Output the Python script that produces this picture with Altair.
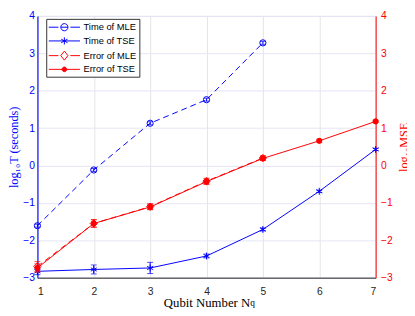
import math
import altair as alt
import pandas as pd

# ---- data ----
nq = [1, 2, 3, 4, 5, 6, 7]
nq_mle = [1, 2, 3, 4, 5]
time_mle = [-1.61, -0.12, 1.13, 1.76, 3.28]
time_mle_err = [0.04, 0.04, 0.04, 0.04, 0.04]
time_tse = [-2.83, -2.78, -2.74, -2.42, -1.71, -0.69, 0.43]
time_tse_err = [0.09, 0.12, 0.15, 0.05, 0.04, 0.03, 0.03]
err_mle = [-2.70, -1.55, -1.10, -0.42, 0.20]
err_mle_err = [0.13, 0.10, 0.08, 0.08, 0.06]
err_tse = [-2.74, -1.55, -1.11, -0.43, 0.19, 0.66, 1.18]
err_tse_err = [0.11, 0.10, 0.07, 0.07, 0.06, 0.04, 0.03]
series = ["Time of MLE", "Time of TSE", "Error of MLE", "Error of TSE"]
x_ticks = [1, 2, 3, 4, 5, 6, 7]
y_ticks = [-3, -2, -1, 0, 1, 2, 3, 4]

BLUE = "#0000ff"
RED = "#ff0000"
SANS = "Liberation Sans"
SERIF = "Liberation Serif"

ASTERISK = "M0,-1V1M-0.87,-0.5L0.87,0.5M-0.87,0.5L0.87,-0.5"


def ring(r, n=16):
    pts = [(r * math.cos(2 * math.pi * k / n), r * math.sin(2 * math.pi * k / n))
           for k in range(n)]
    return "M" + "L".join(f"{x:.3f},{y:.3f}" for x, y in pts) + "Z"


# legend symbols (line + marker), unit = sqrt(size)/2 px = 5 px
LEG_MLE_T = "M-3.18,0H-1.22M1.22,0H3.18" + ring(0.73) + "M-0.73,0H0.73"
LEG_TSE_T = ("M-3.18,0H3.18M0,-0.73V0.73M-0.64,-0.37L0.64,0.37"
             "M-0.64,0.37L0.64,-0.37")
LEG_MLE_E = "M-3.18,0H-1.22M1.22,0H3.18M0,-0.92L0.73,0L0,0.92L-0.73,0Z"
LEG_TSE_E = "M-3.18,0H3.18" + ring(0.47)

W, H = 345, 267


def frame(xs, ys, es):
    return pd.DataFrame({
        "nq": xs,
        "v": ys,
        "lo": [y - e for y, e in zip(ys, es)],
        "hi": [y + e for y, e in zip(ys, es)],
    })


x_axis = alt.Axis(values=x_ticks, format="d", title="Qubit Number N",
                  grid=True, gridColor="#e4e4e4", gridWidth=1,
                  domainColor="#262626", domainWidth=1, ticks=False,
                  labelColor="#262626", labelFont=SANS, labelFontSize=10.5,
                  labelPadding=9, titleFont=SERIF, titleFontSize=13,
                  titleFontWeight="normal", titleColor="#000000", titlePadding=0)
x_scale = alt.Scale(domain=[1, 7], nice=False, zero=False)
y_scale = alt.Scale(domain=[-3, 4], nice=False, zero=False)

left_axis = alt.Axis(orient="left", values=y_ticks, title="log₁₀T (seconds)",
                     grid=True, gridColor="#e4e4f6", gridWidth=1,
                     domainColor="#3c3cff", domainWidth=1.5, ticks=False,
                     labelColor=BLUE, labelFont=SANS, labelFontSize=10.5,
                     labelPadding=3, titleColor=BLUE, titleFont=SERIF,
                     titleFontSize=12.5, titleFontWeight="normal", titlePadding=2)
right_axis = alt.Axis(orient="right", values=y_ticks, title="log₁₀MSE",
                      grid=False, domainColor=RED, domainWidth=1, ticks=False,
                      labelColor=RED, labelFont=SANS, labelFontSize=10.5,
                      labelPadding=5, titleColor=RED, titleFont=SERIF,
                      titleFontSize=12.5, titleFontWeight="normal",
                      titleAngle=270, titleBaseline="top", titlePadding=6)


def X():
    return alt.X("nq:Q", scale=x_scale, axis=x_axis)


def Y(field, axis):
    return alt.Y(field, type="quantitative", scale=y_scale, axis=axis)


def series_layers(df, color, dash, shape, size, filled, axis):
    base = alt.Chart(df)
    line_kw = dict(color=color, strokeWidth=1)
    if dash:
        line_kw["strokeDash"] = dash
    line = base.mark_line(**line_kw).encode(x=X(), y=Y("v", axis))
    rule = base.mark_rule(color=color, strokeWidth=1).encode(
        x=X(), y=Y("lo", axis), y2="hi:Q")
    cap_lo = base.mark_tick(color=color, orient="horizontal", size=6,
                            thickness=1).encode(x=X(), y=Y("lo", axis))
    cap_hi = base.mark_tick(color=color, orient="horizontal", size=6,
                            thickness=1).encode(x=X(), y=Y("hi", axis))
    pt_kw = dict(shape=shape, size=size, filled=filled, strokeWidth=1, opacity=1)
    if filled:
        pt_kw["fill"] = color
        pt_kw["stroke"] = color
    else:
        pt_kw["color"] = color
    pts = base.mark_point(**pt_kw).encode(x=X(), y=Y("v", axis))
    return [line, rule, cap_lo, cap_hi, pts]


df_tm = frame(nq_mle, time_mle, time_mle_err)
df_tt = frame(nq, time_tse, time_tse_err)
df_em = frame(nq_mle, err_mle, err_mle_err)
df_et = frame(nq, err_tse, err_tse_err)

# legend layer (no visible marks: y values are empty)
legend_df = pd.DataFrame({"series": series, "nq": [1] * 4, "v": [None] * 4})
leg = alt.Legend(title=None, orient="none", legendX=9, legendY=3,
                 strokeColor="#333333", fillColor="#ffffff", padding=3,
                 rowPadding=1, symbolSize=100, symbolStrokeWidth=1,
                 symbolOffset=10, labelOffset=14, labelFont=SANS,
                 labelFontSize=9.5, labelColor="#000000", cornerRadius=0)
legend_layer = alt.Chart(legend_df).mark_point(
    filled=True, opacity=1, strokeWidth=1, size=100).encode(
    x=X(), y=Y("v", left_axis),
    shape=alt.Shape("series:N", legend=leg, scale=alt.Scale(
        domain=series, range=[LEG_MLE_T, LEG_TSE_T, LEG_MLE_E, LEG_TSE_E])),
    stroke=alt.Stroke("series:N", legend=leg, scale=alt.Scale(
        domain=series, range=[BLUE, BLUE, RED, RED])),
    fill=alt.Fill("series:N", legend=leg, scale=alt.Scale(
        domain=series, range=["transparent", "transparent", "transparent", RED])),
)

left = alt.layer(
    *series_layers(df_tm, BLUE, [6, 4], "circle", 40, False, left_axis),
    *series_layers(df_tt, BLUE, None, ASTERISK, 49, False, left_axis),
    legend_layer,
)
right = alt.layer(
    *series_layers(df_em, RED, [6, 4], "diamond", 55, False, right_axis),
    *series_layers(df_et, RED, None, "circle", 28, True, right_axis),
)

sub_q = alt.Chart(pd.DataFrame({"t": ["q"]})).mark_text(
    font=SERIF, fontSize=9.5, color="#000000", align="left",
    baseline="alphabetic").encode(text="t:N", x=alt.value(217), y=alt.value(296))

chart = alt.layer(left, right, sub_q).resolve_scale(y="independent").properties(
    width=W, height=H,
    autosize=alt.AutoSizeParams(type="none"),
    padding={"left": 30, "top": 5, "right": 32, "bottom": 36},
).configure_view(stroke=None).configure(background="#ffffff")

chart.save("out.html", embed_options={"renderer": "svg", "actions": False})
